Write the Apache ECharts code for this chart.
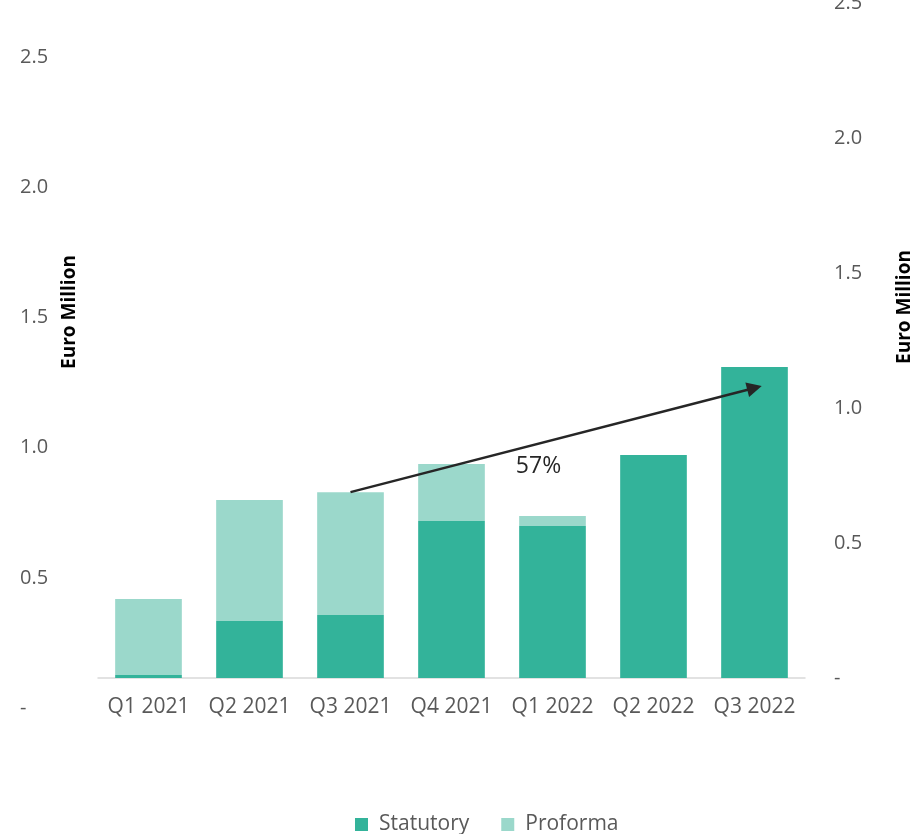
<!DOCTYPE html>
<html>
<head>
<meta charset="utf-8">
<script src="https://cdn.jsdelivr.net/npm/echarts@6/dist/echarts.min.js"></script>
<style>
html,body{margin:0;padding:0;background:#fff;}
#chart{width:923px;height:834px;}
</style>
</head>
<body>
<div id="chart"></div>
<script>
// ---- data ----
const categories = ['Q1 2021', 'Q2 2021', 'Q3 2021', 'Q4 2021', 'Q1 2022', 'Q2 2022', 'Q3 2022'];
const statutory = [0.127, 0.334, 0.357, 0.718, 0.699, 0.972, 1.310];
const proforma = [0.292, 0.465, 0.472, 0.219, 0.038, 0, 0];
const growthLabel = '57%';
const arrowFrom = ['Q3 2021', 0.829];
const arrowTo = ['Q3 2022', 1.229];
const growthLabelAt = ['Q1 2022', 0.928];

// ---- layout ----
const W = 923;
const plotLeft = 98, plotRight = 805;
const leftTopY = 57, leftZeroY = 708;     // left axis: 2.5 .. 0
const mainTopY = 3, mainBottomY = 678;    // main grid (right axis 2.5 .. 0)
const leftMax = 2.5;
const pxPerUnit = (leftZeroY - leftTopY) / leftMax;
const barMin = (leftZeroY - mainBottomY) / pxPerUnit;
const barMax = (leftZeroY - mainTopY) / pxPerUnit;

const FONT = 'Open Sans';
const labelColor = '#595959';
const fmt = v => v === 0 ? '-' : v.toFixed(1);

const chart = echarts.init(document.getElementById('chart'), null, {renderer: 'canvas'});
chart.setOption({
  animation: false,
  backgroundColor: '#ffffff',
  textStyle: {fontFamily: FONT},
  grid: [
    {left: plotLeft, right: W - plotRight, top: mainTopY, height: mainBottomY - mainTopY, outerBoundsMode: 'none', containLabel: false},
    {left: plotLeft, right: W - plotRight, top: leftTopY, height: leftZeroY - leftTopY, outerBoundsMode: 'none', containLabel: false}
  ],
  legend: {
    data: ['Statutory', 'Proforma'],
    top: 809,
    left: 350,
    icon: 'rect',
    itemWidth: 13,
    itemHeight: 13,
    itemGap: 32,
    textStyle: {fontFamily: FONT, fontSize: 21, color: labelColor, padding: [0, 0, 0, 6]}
  },
  xAxis: [
    {
      type: 'category', gridIndex: 0, data: categories,
      axisLine: {lineStyle: {color: '#D9D9D9', width: 1.5}},
      axisTick: {show: false},
      axisLabel: {color: labelColor, fontSize: 21, fontFamily: FONT, margin: 19, interval: 0}
    },
    {type: 'category', gridIndex: 1, data: categories, show: false}
  ],
  yAxis: [
    {type: 'value', gridIndex: 0, min: barMin, max: barMax, show: false, splitLine: {show: false}},
    {
      type: 'value', gridIndex: 0, position: 'right', min: 0, max: 2.5, interval: 0.5,
      axisLine: {show: false}, axisTick: {show: false}, splitLine: {show: false},
      axisLabel: {color: labelColor, fontSize: 20, fontFamily: FONT, margin: 29, formatter: fmt}
    },
    {
      type: 'value', gridIndex: 1, position: 'left', min: 0, max: 2.5, interval: 0.5,
      axisLine: {show: false}, axisTick: {show: false}, splitLine: {show: false},
      axisLabel: {color: labelColor, fontSize: 20, fontFamily: FONT, margin: 78, align: 'left', formatter: fmt}
    }
  ],
  graphic: [
    {type: 'text', rotation: Math.PI / 2, x: 70, y: 312,
      style: {text: 'Euro Million', font: 'bold 19px "Open Sans"', fill: '#000', align: 'center', verticalAlign: 'middle'}},
    {type: 'text', rotation: Math.PI / 2, x: 905, y: 307,
      style: {text: 'Euro Million', font: 'bold 19px "Open Sans"', fill: '#000', align: 'center', verticalAlign: 'middle'}}
  ],
  series: [
    {
      name: 'Statutory', type: 'bar', stack: 'total', xAxisIndex: 0, yAxisIndex: 0,
      data: statutory, barWidth: '66%',
      itemStyle: {color: '#33B39A'},
      markLine: {
        silent: true,
        symbol: ['none', 'triangle'],
        symbolSize: 15,
        lineStyle: {color: '#262626', width: 2.5, type: 'solid'},
        label: {show: false},
        data: [[{coord: arrowFrom}, {coord: arrowTo}]]
      },
      markPoint: {
        silent: true,
        symbol: 'circle', symbolSize: 0,
        label: {show: true, formatter: growthLabel, color: '#262626', fontSize: 23, fontFamily: FONT, offset: [-14, 0]},
        data: [{coord: growthLabelAt}]
      }
    },
    {
      name: 'Proforma', type: 'bar', stack: 'total', xAxisIndex: 0, yAxisIndex: 0,
      data: proforma, barWidth: '66%',
      itemStyle: {color: '#9BD8CB'}
    }
  ]
});
</script>
</body>
</html>
